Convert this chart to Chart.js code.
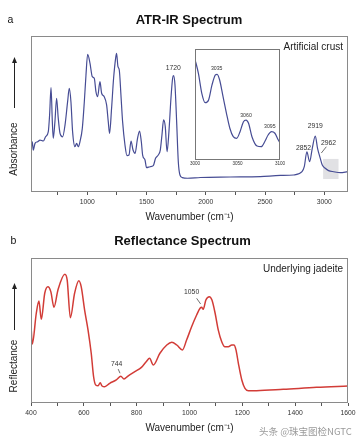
<!DOCTYPE html>
<html>
<head>
<meta charset="utf-8">
<script src="https://cdn.jsdelivr.net/npm/chart.js@4.4.0/dist/chart.umd.min.js"></script>
<style>
  body { margin: 0; background: #fff; width: 363px; height: 444px; position: relative; overflow: hidden; }
  canvas { position: absolute; }
  #irChart { left: 0; top: 0; }
  #insetChart { left: 180px; top: 45px; }
  #reflChart { left: 0; top: 228px; }
  #mark { position: absolute; left: 259px; top: 424px; font: 9.5px "Noto Sans CJK SC"; color: #9a9a9a; white-space: nowrap; }
</style>
</head>
<body>
<canvas id="irChart" width="363" height="228"></canvas>
<canvas id="insetChart" width="115" height="128"></canvas>
<canvas id="reflChart" width="363" height="216"></canvas>
<div id="mark">头条 @珠宝图检NGTC</div>
<script>
// ATR-IR spectrum (panel a), arbitrary absorbance units 0-100
const irWavenumber = [
  525, 536, 544, 559, 581, 601, 629, 648, 671, 682,
  694, 705, 713, 727, 741, 755, 770, 792, 812, 834,
  848, 862, 876, 896, 910, 924, 938, 958, 975, 989,
  1003, 1023, 1042, 1059, 1073, 1087, 1107, 1121, 1143, 1163,
  1177, 1188, 1205, 1222, 1239, 1247, 1259, 1270, 1284, 1298,
  1318, 1335, 1352, 1369, 1386, 1403, 1424, 1441, 1456, 1467,
  1487, 1500, 1529, 1557, 1576, 1599, 1616, 1630, 1644, 1658,
  1673, 1689, 1706, 1720, 1728, 1740, 1754, 1768, 1782, 1802,
  1846, 1954, 2207, 2460, 2629, 2741, 2812, 2831, 2853, 2876,
  2899, 2924, 2943, 2966, 2983, 3008, 3036, 3079, 3135, 3197
];
const irAbsorbance = [
  26.9, 32.2, 26.9, 31.2, 32.2, 33.3, 32.7, 35.4, 38.7, 49.4,
  66.9, 45.1, 34.4, 45.1, 60.1, 47.2, 37.6, 35.4, 42.9, 57.9,
  66.5, 57.9, 38.7, 29.0, 31.2, 29.0, 32.2, 40.8, 57.9, 75.0,
  88.3, 82.5, 73.9, 72.9, 64.3, 61.1, 70.7, 63.3, 61.1, 55.8,
  45.1, 37.6, 53.7, 72.9, 85.7, 88.9, 80.3, 78.2, 62.2, 45.1,
  30.1, 23.3, 23.7, 32.7, 26.9, 24.8, 34.4, 39.1, 32.2, 23.7,
  20.5, 15.6, 16.2, 16.9, 21.6, 23.7, 26.9, 36.5, 46.2, 41.9,
  25.8, 38.7, 60.1, 72.9, 74.6, 68.6, 45.1, 19.4, 10.9, 9.2,
  8.8, 9.3, 9.6, 9.9, 10.6, 10.9, 13.0, 16.2, 25.8, 19.4,
  28.2, 35.9, 28.0, 21.6, 17.3, 15.2, 13.7, 13.0, 12.4, 13.0
];
const irTicks = [750, 1000, 1250, 1500, 1750, 2000, 2250, 2500, 2750, 3000];
const irTickLabels = [1000, 1500, 2000, 2500, 3000];

// inset: 3000-3100 cm-1 zoom
const insetWavenumber = [
  3000, 3004, 3008, 3012, 3016, 3020, 3024, 3026, 3029, 3033,
  3037, 3041, 3045, 3049, 3053, 3057, 3060, 3063, 3067, 3073,
  3078, 3082, 3086, 3090, 3094, 3098, 3100
];
const insetAbsorbance = [
  90.7, 78.1, 60.1, 51.6, 54.1, 67.6, 76.6, 77.2, 72.1, 57.0,
  42.1, 28.6, 21.0, 19.5, 25.5, 34.5, 36.0, 33.1, 21.0, 12.6,
  12.0, 16.5, 22.5, 25.5, 24.1, 18.0, 15.5
];
const insetTicks = [3000, 3050, 3100];

// reflectance spectrum (panel b)
const reflWavenumber = [
  400, 405, 420, 430, 439, 452, 464, 475, 487, 502,
  528, 537, 549, 565, 581, 590, 603, 616, 628, 637,
  645, 654, 662, 669, 679, 698, 723, 740, 752, 767,
  793, 818, 836, 849, 863, 888, 914, 933, 952, 973,
  989, 1008, 1027, 1040, 1046, 1052, 1062, 1075, 1085, 1097,
  1109, 1122, 1134, 1147, 1160, 1168, 1176, 1185, 1198, 1210,
  1223, 1254, 1355, 1481, 1600
];
const reflectance = [
  53.1, 40.7, 61.9, 70.3, 57.7, 75.7, 80.2, 76.8, 66.0, 77.9,
  88.8, 84.8, 58.8, 75.7, 84.3, 80.2, 64.1, 50.3, 34.3, 18.1,
  12.4, 11.9, 14.0, 11.7, 11.2, 13.6, 15.9, 18.4, 16.6, 18.6,
  21.6, 24.6, 28.5, 30.8, 26.2, 34.3, 40.0, 41.9, 40.0, 36.6,
  43.4, 52.6, 60.7, 65.3, 66.0, 64.6, 71.0, 73.3, 71.0, 61.9,
  50.3, 42.3, 38.8, 38.8, 40.0, 40.0, 36.6, 27.4, 15.9, 10.1,
  8.5, 8.5, 9.4, 10.8, 11.7
];
const reflTicks = [400, 500, 600, 700, 800, 900, 1000, 1100, 1200, 1300, 1400, 1500, 1600];
const reflTickLabels = [400, 600, 800, 1000, 1200, 1400, 1600];

const FONT = "'Liberation Sans', Arial, sans-serif";

function points(xs, ys) {
  return xs.map((x, i) => ({x: x, y: ys[i]}));
}

// frame, titles, y label arrow, notes, peak labels
const panelDecor = {
  id: 'panelDecor',
  beforeDatasetsDraw(chart, args, o) {
    const ctx = chart.ctx, a = chart.chartArea, sx = chart.scales.x, sy = chart.scales.y;
    ctx.save();
    if (o.background) {
      ctx.fillStyle = o.background;
      ctx.fillRect(a.left, a.top, a.width, a.height);
    }
    if (o.shade) {
      const s = o.shade;
      const x0 = sx.getPixelForValue(s.x0), x1 = sx.getPixelForValue(s.x1);
      const y0 = sy.getPixelForValue(s.y1), y1 = sy.getPixelForValue(s.y0);
      ctx.fillStyle = s.color;
      ctx.fillRect(x0, y0, x1 - x0, y1 - y0);
    }
    ctx.restore();
  },
  afterDraw(chart, args, o) {
    const ctx = chart.ctx, a = chart.chartArea, sx = chart.scales.x, sy = chart.scales.y;
    ctx.save();
    ctx.strokeStyle = o.frameColor || '#8a8a8a';
    ctx.lineWidth = 1;
    ctx.strokeRect(Math.round(a.left) + 0.5, Math.round(a.top) + 0.5,
                   Math.round(a.width) - 1, Math.round(a.height) - 1);

    ctx.textBaseline = 'middle';
    ctx.fillStyle = '#111';
    if (o.title) {
      ctx.font = 'bold 13px ' + FONT;
      ctx.textAlign = 'center';
      ctx.fillText(o.title.text, o.title.x, o.title.y);
    }
    if (o.letter) {
      ctx.font = '10.5px ' + FONT;
      ctx.textAlign = 'center';
      ctx.fillText(o.letter.text, o.letter.x, o.letter.y);
    }
    if (o.note) {
      ctx.font = '10px ' + FONT;
      ctx.fillStyle = '#222';
      ctx.textAlign = 'right';
      ctx.fillText(o.note.text, o.note.x, o.note.y);
    }
    if (o.yLabel) {
      const l = o.yLabel;
      ctx.fillStyle = '#222';
      ctx.save();
      ctx.translate(l.x, l.y);
      ctx.rotate(-Math.PI / 2);
      ctx.font = '10px ' + FONT;
      ctx.textAlign = 'center';
      ctx.fillText(l.text, 0, 0);
      ctx.restore();
      ctx.strokeStyle = '#222';
      ctx.beginPath();
      ctx.moveTo(l.x + 0.5, l.arrowTop + 5);
      ctx.lineTo(l.x + 0.5, l.arrowBottom);
      ctx.stroke();
      ctx.beginPath();
      ctx.moveTo(l.x + 0.5, l.arrowTop);
      ctx.lineTo(l.x - 2, l.arrowTop + 6);
      ctx.lineTo(l.x + 3, l.arrowTop + 6);
      ctx.closePath();
      ctx.fill();
    }
    (o.peaks || []).forEach(p => {
      ctx.font = (p.size || 6.8) + 'px ' + FONT;
      ctx.fillStyle = '#333';
      ctx.textAlign = 'center';
      ctx.fillText(p.text, sx.getPixelForValue(p.x), sy.getPixelForValue(p.y));
    });
    (o.leaders || []).forEach(l => {
      ctx.strokeStyle = '#333';
      ctx.lineWidth = 0.7;
      ctx.beginPath();
      ctx.moveTo(sx.getPixelForValue(l.x0), sy.getPixelForValue(l.y0));
      ctx.lineTo(sx.getPixelForValue(l.x1), sy.getPixelForValue(l.y1));
      ctx.stroke();
    });
    ctx.restore();
  }
};

function wavenumberAxis(min, max, ticks, labels, height, titlePad, tickFont, showTitle) {
  return {
    type: 'linear',
    min: min,
    max: max,
    afterBuildTicks: s => { s.ticks = ticks.map(v => ({value: v})); },
    afterFit: s => { s.height = height; },
    ticks: {
      autoSkip: false,
      maxRotation: 0,
      padding: showTitle ? 3 : 1,
      color: '#333',
      font: {family: FONT, size: tickFont},
      callback: v => labels.includes(v) ? String(v) : ''
    },
    grid: {
      display: showTitle,
      drawOnChartArea: false,
      drawTicks: showTitle,
      tickLength: 3,
      color: '#555'
    },
    border: {display: false},
    title: {
      display: showTitle,
      text: 'Wavenumber (cm⁻¹)',
      color: '#222',
      font: {family: FONT, size: 10},
      padding: {top: 0, bottom: titlePad}
    }
  };
}

function spectrumChart(id, xs, ys, color, width, xAxis, padding, decor) {
  return new Chart(document.getElementById(id), {
    type: 'line',
    data: {
      datasets: [{
        data: points(xs, ys),
        borderColor: color,
        borderWidth: width,
        pointRadius: 0,
        fill: false,
        cubicInterpolationMode: 'monotone'
      }]
    },
    options: {
      responsive: false,
      animation: false,
      devicePixelRatio: 1,
      layout: {padding: padding},
      scales: {
        x: xAxis,
        y: {display: false, min: 0, max: 100}
      },
      plugins: {
        legend: {display: false},
        tooltip: {enabled: false},
        panelDecor: decor
      }
    },
    plugins: [panelDecor]
  });
}

spectrumChart('irChart', irWavenumber, irAbsorbance, '#464c94', 1.2,
  wavenumberAxis(525, 3200, irTicks, irTickLabels, 36, 4.5, 6.8, true),
  {left: 31, right: 15, top: 36, bottom: 0},
  {
    title: {text: 'ATR-IR Spectrum', x: 189, y: 20},
    letter: {text: 'a', x: 10.5, y: 20},
    note: {text: 'Artificial crust', x: 343, y: 47},
    yLabel: {text: 'Absorbance', x: 14, y: 149, arrowTop: 57, arrowBottom: 108},
    shade: {x0: 2990, x1: 3120, y0: 8.3, y1: 21.2, color: 'rgba(200,200,205,0.55)'},
    peaks: [
      {x: 1726, y: 79.5, text: '1720'},
      {x: 2825, y: 28.4, text: '2852'},
      {x: 2924, y: 42.3, text: '2919'},
      {x: 3036, y: 31.6, text: '2962'}
    ],
    leaders: [{x0: 3017, y0: 29, x1: 2975, y1: 25}]
  });

spectrumChart('insetChart', insetWavenumber, insetAbsorbance, '#464c94', 1.2,
  wavenumberAxis(3000, 3100, insetTicks, insetTicks, 13, 0, 4.6, false),
  {left: 15, right: 15, top: 4, bottom: 0},
  {
    background: '#fff',
    frameColor: '#777',
    peaks: [
      {x: 3025.5, y: 82.6, text: '3035', size: 5.2},
      {x: 3060, y: 39.9, text: '3060', size: 5.2},
      {x: 3088, y: 30.4, text: '3095', size: 5.2}
    ]
  });

spectrumChart('reflChart', reflWavenumber, reflectance, '#d23c37', 1.5,
  wavenumberAxis(400, 1600, reflTicks, reflTickLabels, 41, 10, 6.8, true),
  {left: 31, right: 15, top: 30, bottom: 0},
  {
    title: {text: 'Reflectance Spectrum', x: 182.5, y: 13.5},
    letter: {text: 'b', x: 13.5, y: 12.7},
    note: {text: 'Underlying jadeite', x: 343, y: 41},
    yLabel: {text: 'Reflectance', x: 14, y: 138, arrowTop: 55, arrowBottom: 102},
    peaks: [
      {x: 724, y: 26.9, text: '744'},
      {x: 1008, y: 76.3, text: '1050'}
    ],
    leaders: [
      {x0: 730, y0: 23.4, x1: 737, y1: 20.5},
      {x0: 1027, y0: 72.2, x1: 1042, y1: 68.3}
    ]
  });
</script>
</body>
</html>
